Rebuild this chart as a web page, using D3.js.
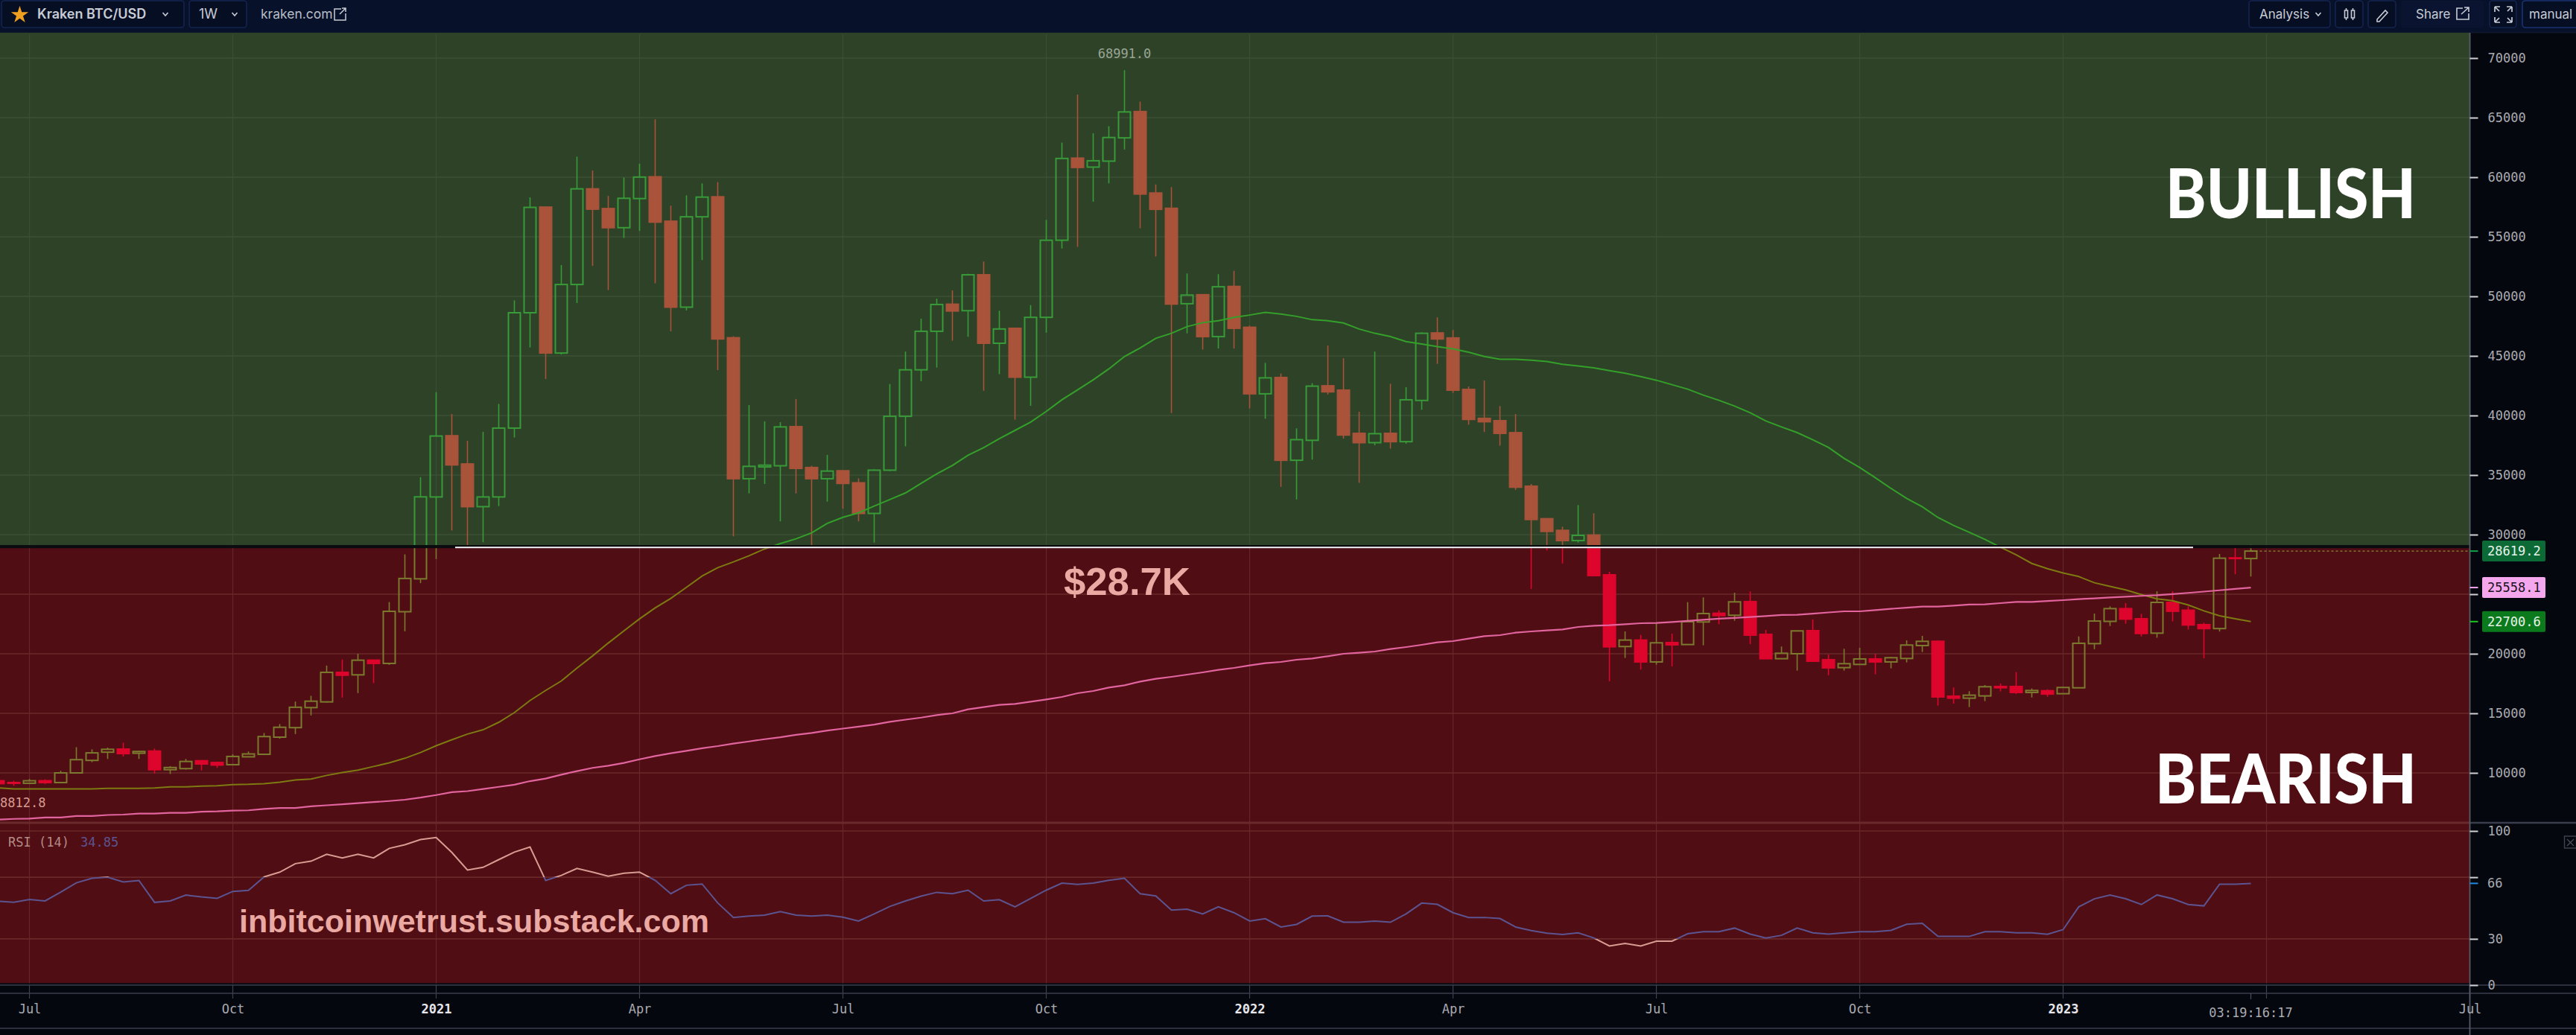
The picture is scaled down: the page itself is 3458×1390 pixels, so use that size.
<!DOCTYPE html>
<html lang="en">
<head>
<meta charset="utf-8">
<title>Kraken BTC/USD weekly</title>
<script src="https://cdnjs.cloudflare.com/ajax/libs/d3/7.8.5/d3.min.js"></script>
<style>
  html, body { margin: 0; padding: 0; background: #05070f; overflow: hidden; }
  svg { display: block; }
  text { white-space: pre; }
</style>
</head>
<body>
<div id="chart"></div>
<script>
// Weekly BTC/USD candles, first candle is the week of 2020-06-15.
const firstWeek = "2020-06-15";
const opens = [9340,9190,9130,9340,9190,10000,11050,11740,12000,11650,11830,10270,10360,11020,10870,10690,11350,11560,13000,13800,15480,15960,18440,18230,19460,19190,23530,26290,
  33162,38300,35930,32347,33162,38942,48625,57490,45240,50996,59023,57368,55763,58208,60035,56306,49094,56676,58356,46525,34694,35682,35780,39065,35632,34694,35360,34347,31779,35410,39930,43833,47068,49341,
  48796,51809,46062,47317,43216,48238,54711,61602,60849,61351,63304,65508,58673,57389,49382,50135,46620,50833,47401,41821,43188,36241,37915,42491,42128,38501,37720,38501,37804,41263,46927,46509,42184,39756,39561,38557,
  34063,31334,30355,29501,29959,26626,20607,21148,19315,20940,20773,22669,23398,23231,24377,21627,19586,20002,21940,19502,18836,19106,19565,19315,19606,20690,21044,16440,16273,16461,17252,17252,16753,16896,16648,17143,
  20851,22719,23790,22939,21730,24312,23653,22444,22115,28048,27993];
const highs = [9380,9340,9490,9460,10180,12160,11980,12130,12540,11860,12040,10570,11170,11020,10960,11560,11800,13350,14100,15990,16470,19010,19520,20000,19520,24340,28350,34820,
  41955,40128,37880,38620,40968,49662,58307,57566,52626,61715,60555,58430,59962,61147,64852,57615,58480,59492,59591,46648,40869,39510,39436,41387,35780,36694,35360,34718,35484,42647,45364,48130,49810,50502,
  51900,52925,48796,47374,49270,56413,62913,66931,63695,64280,68991,66345,59398,59175,51921,50191,51865,52144,47541,44416,43523,38920,42714,45866,44807,40314,45364,42658,42379,46982,48238,47178,42435,42937,40789,40119,
  34250,31334,30667,32480,31792,26876,21877,21585,22585,21690,24335,24731,23648,25127,25231,22002,20607,21919,22877,19940,20419,20502,20002,19731,21127,21502,21127,17169,16857,17377,17502,18461,17086,17023,17210,21455,
  23378,23983,24257,23351,25246,25246,23983,22609,28378,28872,29147];
const lows = [9080,8920,9100,9070,9130,10000,10900,11170,11380,11170,9940,9910,10270,10210,10420,10690,11350,11500,12870,13260,14820,15900,16320,16700,17540,19070,21890,25930,
  27950,30346,28864,29360,32396,38152,45710,43067,45117,49440,52552,50526,54898,55491,51094,47068,48822,53046,43808,29852,33459,34250,31112,33459,28938,32767,32174,31112,29334,35336,37409,42870,44030,46278,
  46600,42072,43467,39645,40817,46955,54013,54153,57947,59482,62328,55715,53344,40203,46899,45532,45616,45616,40593,39728,34009,32949,36297,41765,38054,34344,37497,37218,37636,40482,44332,41905,39226,38612,37469,33758,
  25439,28668,27584,29334,26564,17690,19648,18669,19086,18940,20773,20711,22481,22773,20815,19586,19586,18586,19335,18190,18586,19106,18273,18773,19273,20148,15649,15815,15524,16023,16836,16628,16336,16398,16648,17143,
  20384,22335,22527,21455,21346,22719,22032,19615,21868,26675,26483];
const closes = [9100,9130,9340,9190,10000,11110,11680,11980,11620,11800,10270,10450,10960,10750,10660,11380,11590,13050,13830,15510,16020,18440,18200,19460,19190,23560,26320,33170,
  38276,35855,32347,33162,38942,48625,57467,45240,50996,59023,57319,55763,58232,60011,56232,49094,56676,58331,46426,34694,35731,35830,39040,35558,34694,35336,34298,31779,35410,39930,43833,47068,49316,48773,
  51809,46062,47262,43216,48238,54711,61574,60821,61379,63332,65480,58589,57305,49354,50107,46620,50805,47317,41821,43160,36241,37971,42463,41989,38361,37720,38473,37804,41318,46899,46425,42128,39672,39477,38501,33981,
  31271,30271,29501,29938,26564,20586,21148,19315,20919,20752,22690,23377,23210,24356,21565,19586,20044,21919,19377,18815,19169,19565,19315,19669,20731,21044,16378,16273,16523,17232,17148,16753,16919,16620,17170,20879,22747,
  23790,22911,21703,24312,23571,22417,22115,28021,27993,28619.2];

// Fast moving average, 145 weekly values.
const maShort = [8742,8650,8650,8650,8650,8650,8650,8710,8710,8710,8740,8830,8830,8890,8920,9010,9040,9100,9220,9400,9490,9790,10030,10240,10540,10840,11230,11710,12280,12780,13260,13620,14250,15060,16080,16920,17720,18800,19820,20900,21920,22930,23850,24645,25580,26520,27230,27710,28230,28800,29250,29650,30150,30950,31450,31830,32400,32950,33500,34300,35100,35800,
  36660,37300,38050,38750,39450,40340,41320,42150,42990,43910,44950,45670,46480,46900,47460,47790,47960,48240,48430,48660,48520,48320,48040,47960,47760,47260,46900,46620,46200,46000,45780,45590,45310,44950,44720,44720,44640,44530,44300,44150,44000,
  43771,43542,43271,42959,42584,42209,41709,41272,40793,40230,39543,39043,38564,37960,37314,36398,35627,34773,33877,33044,32336,31440,30773,30190,29607,28940,28300,27580,27140,26785,26480,25960,25660,25355,24970,24615,24450,24090,23600,23190,22940,22700.6];

// Slow moving average, 145 weekly values.
const maLong = [6078,6140,6170,6260,6260,6380,6380,6470,6500,6590,6590,6650,6650,6740,6770,6830,6860,6980,7060,7060,7190,7280,7370,7460,7550,7640,7750,7930,8140,8380,8470,8650,8830,9010,9310,9520,9850,10150,10420,10600,10840,11140,11410,11650,
  11850,12070,12250,12460,12640,12830,12990,13190,13350,13560,13720,13880,14060,14290,14470,14640,14855,15000,15334,15522,15709,15792,15980,16167,16376,16688,16876,17167,17355,17667,17896,18063,18250,18438,18646,18813,19021,19209,19313,19500,19604,19792,20000,20084,20188,20396,20563,20750,20959,21063,21271,21479,21562,21771,21875,21958,22041,22250,
  22350,22398,22480,22564,22585,22670,22752,22850,22940,23010,23085,23170,23252,23273,23370,23470,23564,23564,23670,23773,23870,23960,23960,24040,24127,24147,24250,24356,24356,24430,24500,24587,24650,24724,24790,24860,24917,25010,25110,25220,25329,25440,25558.1];

// RSI(14), 145 weekly values.
const rsiValues = [54.4,53.7,55.6,54.6,60.3,66.4,69.3,70,66.9,67.9,53.7,54.6,58.4,57.2,56.3,60.8,61.5,70.2,73.3,78.8,80.4,84.9,82.5,84.9,82.5,88.7,91.1,94.4,95.8,86.1,74.7,76.4,81.4,86.3,89.6,67.9,71.2,75.7,73.3,70.7,72.6,73.3,68,59.3,
  64.8,65.6,53.3,43.9,44.8,45.4,47.7,45.4,44.8,45.4,44.1,41.6,46.2,51,54.6,57.7,60.2,59.3,61.6,54.6,55.4,50.8,56.2,61.6,66.2,65.4,66.2,68,69.3,59.3,57.9,48.7,49.3,46.2,50.8,47,41.6,43.1,37.7,39.4,44.8,
  44.9,40.8,40.8,41.6,40.8,46.2,53.2,52.4,47,43.9,43.9,43.2,37.7,35.4,33.7,32.9,33.9,30.6,25.4,27,25.4,28.5,28.5,33.3,34.7,34.7,37,33.1,30.6,32.3,37,33.9,33.1,33.9,34.7,34.7,35.5,39.5,40.1,31.6,31.6,31.6,34.7,34.7,
  33.9,33.9,33,36,50.8,56,58.5,56,52.3,58.5,56,52.3,51.4,65.5,65.5,66];

const priceTicks = [10000,15000,20000,25000,30000,35000,40000,45000,50000,55000,60000,65000,70000];
// The 25000 tick keeps its mark; its label sits behind the slow average's value tag.
const priceTickLabels = ["10000","15000","20000","","30000","35000","40000","45000","50000","55000","60000","65000","70000"];
const rsiTicks = [0,30,70,100];
const rsiTickLabels = ["0","30","","100"];
const timeTickDates = ["2020-06-29","2020-09-28","2020-12-28","2021-03-29","2021-06-28","2021-09-27","2021-12-27","2022-03-28","2022-06-27","2022-09-26","2022-12-26","2023-03-27","2023-06-26"];
const timeTickLabels = ["Jul","Oct","2021","Apr","Jul","Oct","2022","Apr","Jul","Oct","2023","","Jul"];
const supportLevel = 29000;
const supportLabel = "$28.7K";
const peakPrice = 68991;
const lastLabels = [
  {label: "28619.2", value: 28619.2, bg: "#0b6a36", fg: "#e8f2ea", tick: "#10a04c"},
  {label: "25558.1", value: 25558.1, bg: "#f5a7ee", fg: "#1b1320", tick: "#f5a7ee"},
  {label: "22700.6", value: 22700.6, bg: "#0b7a1c", fg: "#e8f2ea", tick: "#1fc424"}
];

const W = 3458, H = 1390;
const plotRight = 3315.5;
const mono = "'DejaVu Sans Mono', monospace";
const ui = "Inter, 'Noto Sans', sans-serif";

const colors = {
  green: "#2d4227", red: "#500d13",
  gridGreenH: "#3b5036", gridGreenV: "#394e35",
  gridRedH: "#682829", gridRedV: "#64282c",
  axisBg: "#05070f", barBg: "#07112a", chromeLine: "#3a3e4c", boxLine: "#14244f",
  axisText: "#a9abb0"
};

const parseDay = d3.utcParse("%Y-%m-%d");
const weeks = opens.map((_, i) => d3.utcDay.offset(parseDay(firstWeek), 7 * i));
const candles = weeks.map((date, i) => ({date, o: opens[i], h: highs[i], l: lows[i], c: closes[i]}));

const x = d3.scaleUtc()
  .domain([parseDay(timeTickDates[0]), parseDay(timeTickDates[timeTickDates.length - 1])])
  .range([39.5, plotRight]);
const y = d3.scaleLinear().domain([10000, 70000]).range([1038, 78]);
const yRsi = d3.scaleLinear().domain([0, 100]).range([1323, 1116]);

const svg = d3.select("#chart").append("svg").attr("width", W).attr("height", H).attr("viewBox", `0 0 ${W} ${H}`);
const defs = svg.append("defs");
const clip = (id, x0, y0, w, h) => defs.append("clipPath").attr("id", id).append("rect")
  .attr("x", x0).attr("y", y0).attr("width", w).attr("height", h);

const zoneSplit = y(supportLevel);
clip("zone-bull", 0, 44, plotRight, zoneSplit - 44);
clip("zone-bear", 0, zoneSplit, plotRight, 1105 - zoneSplit);
clip("rsi-high", 0, 1106, plotRight, yRsi(70) - 1106);
clip("rsi-mid", 0, yRsi(70), plotRight, yRsi(30) - yRsi(70));
clip("rsi-low", 0, yRsi(30), plotRight, 1320 - yRsi(30));

// Page chrome and the two market zones.
svg.append("rect").attr("width", W).attr("height", H).attr("fill", colors.axisBg);
svg.append("rect").attr("width", W).attr("height", 43).attr("fill", colors.barBg);
svg.append("rect").attr("y", 43).attr("width", W).attr("height", 1.5).attr("fill", "#11182c");
svg.append("rect").attr("y", 44).attr("width", plotRight).attr("height", zoneSplit - 44).attr("fill", colors.green);
svg.append("rect").attr("y", zoneSplit).attr("width", plotRight).attr("height", 1320.5 - zoneSplit).attr("fill", colors.red);

// Grid.
const grid = svg.append("g");
const gridTimes = timeTickDates.map(parseDay);
grid.selectAll(".v-bull").data(gridTimes).join("line")
  .attr("x1", d => x(d)).attr("x2", d => x(d)).attr("y1", 46).attr("y2", zoneSplit)
  .attr("stroke", colors.gridGreenV).attr("stroke-width", 1.4);
grid.selectAll(".v-bear").data(gridTimes).join("line")
  .attr("x1", d => x(d)).attr("x2", d => x(d)).attr("y1", zoneSplit).attr("y2", 1320)
  .attr("stroke", colors.gridRedV).attr("stroke-width", 1.2);
grid.selectAll(".v-foot").data(gridTimes).join("line")
  .attr("x1", d => x(d)).attr("x2", d => x(d)).attr("y1", 1320).attr("y2", 1341)
  .attr("stroke", "#3d4150").attr("stroke-width", 1.2);
grid.selectAll(".h").data(priceTicks).join("line")
  .attr("x1", 0).attr("x2", plotRight).attr("y1", d => y(d)).attr("y2", d => y(d))
  .attr("stroke", d => y(d) < zoneSplit ? colors.gridGreenH : colors.gridRedH).attr("stroke-width", 1.6);
grid.selectAll(".r").data(rsiTicks.filter(d => d > 0)).join("line")
  .attr("x1", 0).attr("x2", plotRight).attr("y1", d => yRsi(d)).attr("y2", d => yRsi(d))
  .attr("stroke", colors.gridRedH).attr("stroke-width", 1.6);
svg.append("line").attr("x1", 0).attr("x2", plotRight).attr("y1", 1105).attr("y2", 1105)
  .attr("stroke", "#6a2a2c").attr("stroke-width", 3);

// Candles, drawn once per zone so each side keeps its tint.
const bodyWidth = 16;
function drawCandles(clipId, upColor, downColor, maColor) {
  const g = svg.append("g").attr("clip-path", `url(#${clipId})`);
  const up = d => d.c >= d.o;
  const stroke = d => up(d) ? upColor : downColor;
  const c = g.selectAll("g.c").data(candles).join("g").attr("class", "c");
  c.append("line").attr("x1", d => x(d.date)).attr("x2", d => x(d.date))
    .attr("y1", d => y(d.h)).attr("y2", d => y(Math.max(d.o, d.c)))
    .attr("stroke", stroke).attr("stroke-width", 1.6);
  c.append("line").attr("x1", d => x(d.date)).attr("x2", d => x(d.date))
    .attr("y1", d => y(Math.min(d.o, d.c))).attr("y2", d => y(d.l))
    .attr("stroke", stroke).attr("stroke-width", 1.6);
  c.append("rect")
    .attr("x", d => x(d.date) - bodyWidth / 2)
    .attr("width", bodyWidth)
    .attr("y", d => y(Math.max(d.o, d.c)))
    .attr("height", d => Math.abs(y(d.o) - y(d.c)))
    .attr("fill", d => up(d) ? "none" : downColor)
    .attr("stroke", stroke).attr("stroke-width", 2);
  g.append("path").datum(candles)
    .attr("d", d3.line().x(d => x(d.date)).y((_, i) => y(maShort[i])))
    .attr("fill", "none").attr("stroke", maColor).attr("stroke-width", 2);
  g.append("path").datum(candles)
    .attr("d", d3.line().x(d => x(d.date)).y((_, i) => y(maLong[i])))
    .attr("fill", "none").attr("stroke", "#e2649f").attr("stroke-width", 2.2);
}
drawCandles("zone-bull", "#389a38", "#a8533a", "#34a02a");
drawCandles("zone-bear", "#7b7a2e", "#dd052c", "#7d7a12");

// Support band across the zone boundary.
svg.append("rect").attr("y", 732).attr("width", plotRight).attr("height", 4.2).attr("fill", "#0a0c10");
svg.append("rect").attr("x", 611).attr("y", 734.2).attr("width", 2944 - 611).attr("height", 2).attr("fill", "#f2f2f2");

// Last price guide.
svg.append("line").attr("x1", x(weeks[weeks.length - 1])).attr("x2", plotRight)
  .attr("y1", y(closes[closes.length - 1])).attr("y2", y(closes[closes.length - 1]))
  .attr("stroke", "#8b8a34").attr("stroke-width", 1.4).attr("stroke-dasharray", "3 3");

// RSI line, tinted outside the 30-70 range.
const rsiLine = d3.line().x((_, i) => x(weeks[i])).y(d => yRsi(d));
[["rsi-high", "#d79c92"], ["rsi-mid", "#5c5490"], ["rsi-low", "#d79c92"]].forEach(([id, col]) => {
  svg.append("path").datum(rsiValues).attr("clip-path", `url(#${id})`)
    .attr("d", rsiLine).attr("fill", "none").attr("stroke", col).attr("stroke-width", 2);
});

// Frame and footer rules.
svg.append("rect").attr("y", 1320.5).attr("width", plotRight).attr("height", 2).attr("fill", "#0a0c12");
[1323, 1334, 1381].forEach(v => svg.append("line").attr("x1", 0).attr("x2", W).attr("y1", v).attr("y2", v)
  .attr("stroke", colors.chromeLine).attr("stroke-width", 1.6));
svg.append("line").attr("x1", plotRight).attr("x2", W).attr("y1", 1105).attr("y2", 1105)
  .attr("stroke", colors.chromeLine).attr("stroke-width", 2.4);
svg.append("line").attr("x1", plotRight).attr("x2", plotRight).attr("y1", 44).attr("y2", H)
  .attr("stroke", "#565a66").attr("stroke-width", 1.8);

// Axes.
function styleAxis(g) {
  g.select(".domain").remove();
  g.selectAll("text").attr("font-family", mono).attr("font-size", 17).attr("fill", colors.axisText);
}
const priceAxis = d3.axisRight(y).tickValues(priceTicks).tickFormat((d, i) => priceTickLabels[i]).tickSize(11).tickPadding(13);
svg.append("g").attr("transform", `translate(${plotRight},0)`).call(priceAxis).call(styleAxis)
  .selectAll("line").attr("stroke", "#d0d0d4").attr("stroke-width", 2);
const rsiAxis = d3.axisRight(yRsi).tickValues(rsiTicks).tickFormat((d, i) => rsiTickLabels[i]).tickSize(11).tickPadding(13);
svg.append("g").attr("transform", `translate(${plotRight},0)`).call(rsiAxis).call(styleAxis)
  .selectAll("line").attr("stroke", "#d0d0d4").attr("stroke-width", 2);

const timeAxis = d3.axisBottom(x).tickValues(gridTimes).tickFormat((d, i) => timeTickLabels[i]).tickSize(0).tickPadding(0);
const timeG = svg.append("g").attr("transform", "translate(0,1346)").call(timeAxis).call(styleAxis);
timeG.selectAll("text").attr("dy", "0.9em")
  .attr("fill", (_, i) => /^\d/.test(timeTickLabels[i]) ? "#e6e6ea" : colors.axisText)
  .attr("font-weight", (_, i) => /^\d/.test(timeTickLabels[i]) ? "bold" : "normal");

// Last-value tags on the price scale.
const tags = svg.append("g");
lastLabels.forEach(t => {
  const yy = y(t.value);
  tags.append("line").attr("x1", plotRight).attr("x2", plotRight + 11).attr("y1", yy).attr("y2", yy)
    .attr("stroke", t.tick).attr("stroke-width", 2);
  tags.append("rect").attr("x", 3332).attr("y", yy - 14).attr("width", 85).attr("height", 28).attr("rx", 2).attr("fill", t.bg);
  tags.append("text").attr("x", 3339).attr("y", yy).attr("dy", "0.35em")
    .attr("font-family", mono).attr("font-size", 17).attr("fill", t.fg).text(t.label);
});
const rsiLast = rsiValues[rsiValues.length - 1];
tags.append("line").attr("x1", plotRight).attr("x2", plotRight + 11).attr("y1", yRsi(rsiLast)).attr("y2", yRsi(rsiLast))
  .attr("stroke", "#1e88e5").attr("stroke-width", 2);
tags.append("text").attr("x", 3339).attr("y", yRsi(rsiLast)).attr("dy", "0.35em")
  .attr("font-family", mono).attr("font-size", 17).attr("fill", colors.axisText).text(d3.format("d")(rsiLast));

// In-plot labels.
const peakIndex = highs.indexOf(peakPrice);
svg.append("text").attr("x", x(weeks[peakIndex])).attr("y", 72.5).attr("dy", "0.35em").attr("text-anchor", "middle")
  .attr("font-family", mono).attr("font-size", 17).attr("fill", "#9aa596").text(d3.format(".1f")(peakPrice));
svg.append("text").attr("x", 0).attr("y", 1078).attr("dy", "0.35em")
  .attr("font-family", mono).attr("font-size", 17).attr("fill", "#d79c92").text("8812.8");
svg.append("text").attr("x", 11).attr("y", 1131).attr("dy", "0.35em")
  .attr("font-family", mono).attr("font-size", 17).attr("fill", "#b58b86").text("RSI (14)");
svg.append("text").attr("x", 108).attr("y", 1131).attr("dy", "0.35em")
  .attr("font-family", mono).attr("font-size", 17).attr("fill", "#5c5490").text("34.85");

svg.append("text").attr("x", 2907).attr("y", 293).attr("textLength", 336).attr("lengthAdjust", "spacingAndGlyphs")
  .attr("font-family", "Lato, sans-serif").attr("font-weight", 900).attr("font-size", 92).attr("fill", "#fff").text("BULLISH");
svg.append("text").attr("x", 2893).attr("y", 1079).attr("textLength", 351).attr("lengthAdjust", "spacingAndGlyphs")
  .attr("font-family", "Lato, sans-serif").attr("font-weight", 900).attr("font-size", 92).attr("fill", "#fff").text("BEARISH");
svg.append("text").attr("x", 1428).attr("y", 799)
  .attr("font-family", "'Liberation Sans', Arial, sans-serif").attr("font-weight", "bold").attr("font-size", 52.7)
  .attr("fill", "#eaa9a3").text(supportLabel);
svg.append("text").attr("x", 321).attr("y", 1252).attr("textLength", 631).attr("lengthAdjust", "spacingAndGlyphs")
  .attr("font-family", "'Liberation Sans', Arial, sans-serif").attr("font-weight", "bold").attr("font-size", 42)
  .attr("fill", "#eaa9a3").text("inbitcoinwetrust.substack.com");

// Countdown under the last candle.
svg.append("line").attr("x1", x(weeks[weeks.length - 1])).attr("x2", x(weeks[weeks.length - 1])).attr("y1", 1334).attr("y2", 1342)
  .attr("stroke", "#4a4e5c").attr("stroke-width", 1.2);
svg.append("text").attr("x", x(weeks[weeks.length - 1])).attr("y", 1360).attr("dy", "0.35em").attr("text-anchor", "middle")
  .attr("font-family", mono).attr("font-size", 17).attr("fill", colors.axisText).text("03:19:16:17");

// Toolbar.
const bar = svg.append("g");
const box = (x0, w, stroke = colors.boxLine) => bar.append("rect").attr("x", x0).attr("y", 1).attr("width", w).attr("height", 36)
  .attr("rx", 4).attr("fill", "#060e24").attr("stroke", stroke).attr("stroke-width", 1.6);
const label = (x0, txt, weight = 400, size = 18, fill = "#c8ccd4") => bar.append("text").attr("x", x0).attr("y", 19).attr("dy", "0.35em")
  .attr("font-family", ui).attr("font-weight", weight).attr("font-size", size).attr("fill", fill).text(txt);
const chevron = cx => bar.append("path").attr("d", `M${cx - 3.5},17 L${cx},21 L${cx + 3.5},17`)
  .attr("fill", "none").attr("stroke", "#c8ccd4").attr("stroke-width", 1.6);
const icon = (d, sw = 1.6) => bar.append("path").attr("d", d).attr("fill", "none").attr("stroke", "#c8ccd4").attr("stroke-width", sw);

box(2, 245);
bar.append("path").attr("d", d3.symbol(d3.symbolStar, 170)()).attr("transform", "translate(26.5,20)").attr("fill", "#f0a020");
label(50, "Kraken BTC/USD", 600, 18);
chevron(222);
box(254, 77);
label(267, "1W", 400, 18);
chevron(315);
label(350, "kraken.com", 400, 17.5, "#b9bdc6");
icon("M458,12 H449 V27 H464 V18 M456,19 L464,11 M459,11 H464 V16", 1.5);

box(3019, 109);
label(3033, "Analysis", 400, 17);
chevron(3112);
box(3135, 37);
icon("M3149.5,11 V14 M3149.5,24 V27 M3147.5,14 h4 v10 h-4 Z M3158.5,11 V14 M3158.5,24 V27 M3156.5,14 h4 v10 h-4 Z", 1.6);
box(3179, 37);
icon("M3191,26 L3191,29 L3194,29 L3205,17 L3202,14 Z", 1.6);
bar.append("rect").attr("x", 3223).attr("y", 1).attr("width", 111).attr("height", 36).attr("rx", 3).attr("fill", "#0a1430");
label(3243, "Share", 400, 17);
icon("M3306,11 H3298 V26 H3314 V18 M3304,19 L3314,10 M3308,10 H3314 V16", 1.6);
box(3342, 36);
icon("M3349,9 v7 M3349,9 h7 M3349,9 l6,6 M3372,9 v7 M3372,9 h-7 M3372,9 l-6,6 M3349,30 v-7 M3349,30 h7 M3349,30 l6,-6 M3372,30 v-7 M3372,30 h-7 M3372,30 l-6,-6", 1.7);
bar.append("rect").attr("x", 3386).attr("y", 1).attr("width", 80).attr("height", 36).attr("rx", 4)
  .attr("fill", "#060e24").attr("stroke", "#1a3270").attr("stroke-width", 1.6);
label(3395, "manual", 400, 17);

// Close control for the indicator pane.
svg.append("rect").attr("x", 3442.5).attr("y", 1123).attr("width", 16).attr("height", 16)
  .attr("fill", "none").attr("stroke", "#3f4350").attr("stroke-width", 1.4);
svg.append("path").attr("d", "M3446,1127 L3455,1136 M3455,1127 L3446,1136").attr("stroke", "#4a4e5c").attr("stroke-width", 1.2);
</script>
</body>
</html>
